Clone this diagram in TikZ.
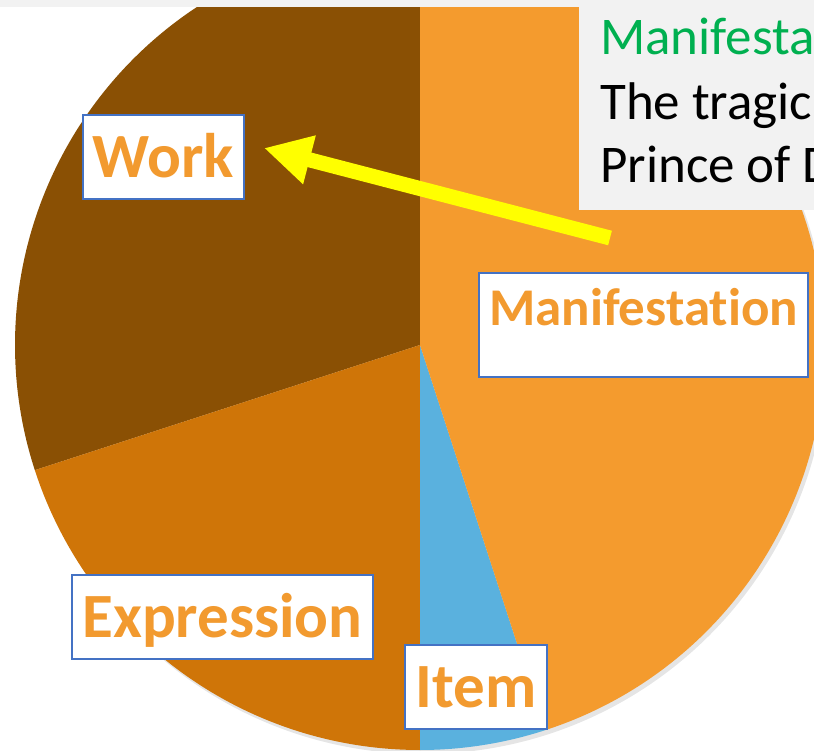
\documentclass[tikz,border=0pt]{standalone}
\usepackage{fontspec}
\setmainfont{Carlito}[Ligatures = NoCommon]
\usetikzlibrary{arrows.meta}

\definecolor{workbrown}{HTML}{8A5004}
\definecolor{exprorange}{HTML}{CF7508}
\definecolor{itemblue}{HTML}{5AB1DE}
\definecolor{maniforange}{HTML}{F49B2E}
\definecolor{labelorange}{HTML}{F29A2F}
\definecolor{boxblue}{HTML}{4472C4}
\definecolor{panelgray}{HTML}{F2F2F2}
\definecolor{recgreen}{HTML}{00B050}
\definecolor{arrowyellow}{HTML}{FFFF00}

\tikzset{
	slicelabel/.style = {draw = boxblue, line width = 2pt, fill = white, text = labelorange,
		font = \bfseries\fontsize{63}{76}\selectfont, text height = 40.5pt, text depth = 0pt,
		inner sep = 0pt, minimum height = 84pt},
	recordtext/.style = {font = \fontsize{53}{64}\selectfont, inner sep = 0pt, anchor = base west}
}

\begin{document}
\begin{tikzpicture}[x = 1pt, y = 1pt]
	\useasboundingbox (0, 0) rectangle (814, 750);
	
	%	pie setup
	
	\def\cx{420}
	\def\cy{405}
	\def\r{405}
	
	%	shadow and slices
	\fill[gray!20] (\cx + 3, \cy - 4) circle (\r);
	\fill[workbrown] (\cx, \cy) -- ++(90:\r) arc (90:198:\r) -- cycle;
	\fill[exprorange] (\cx, \cy) -- ++(198:\r) arc (198:270:\r) -- cycle;
	\fill[itemblue] (\cx, \cy) -- ++(270:\r) arc (270:288:\r) -- cycle;
	\fill[maniforange] (\cx, \cy) -- ++(288:\r) arc (288:450:\r) -- cycle;
	
	%	strip and record panel
	\fill[panelgray] (0, 743) rectangle (814, 750);
	\fill[panelgray] (579, 540) rectangle (820, 743);
	\node[recordtext, text = recgreen] (rectitle) at (600, 695) {Manifesta};
	\node[recordtext] (recline1) at (600, 630) {The tragic};
	\node[recordtext] (recline2) at (600, 567) {Prince of D};
	
	%	labels
	\node[slicelabel, minimum width = 161pt] (work) at (163.5, 593) {Work};
	\node[slicelabel, minimum width = 301pt] (expression) at (222.5, 132.5) {Expression};
	\node[slicelabel, minimum width = 142pt] (item) at (476, 63) {Item};
	\node[slicelabel, minimum width = 329pt, font = \bfseries\fontsize{53}{64}\selectfont,
		text height = 34pt, text depth = 32pt, inner ysep = 19pt,
		minimum height = 0pt] (manif) at (643.5, 425) {Manifestation};
	
	%	arrow
	\coordinate (tail) at (610, 512);
	\draw[-{Triangle[length = 47pt, width = 47pt]}, arrowyellow, line width = 15pt]
		(tail) -- ([shift = {(19, 9)}]work.east);
\end{tikzpicture}
\end{document}
